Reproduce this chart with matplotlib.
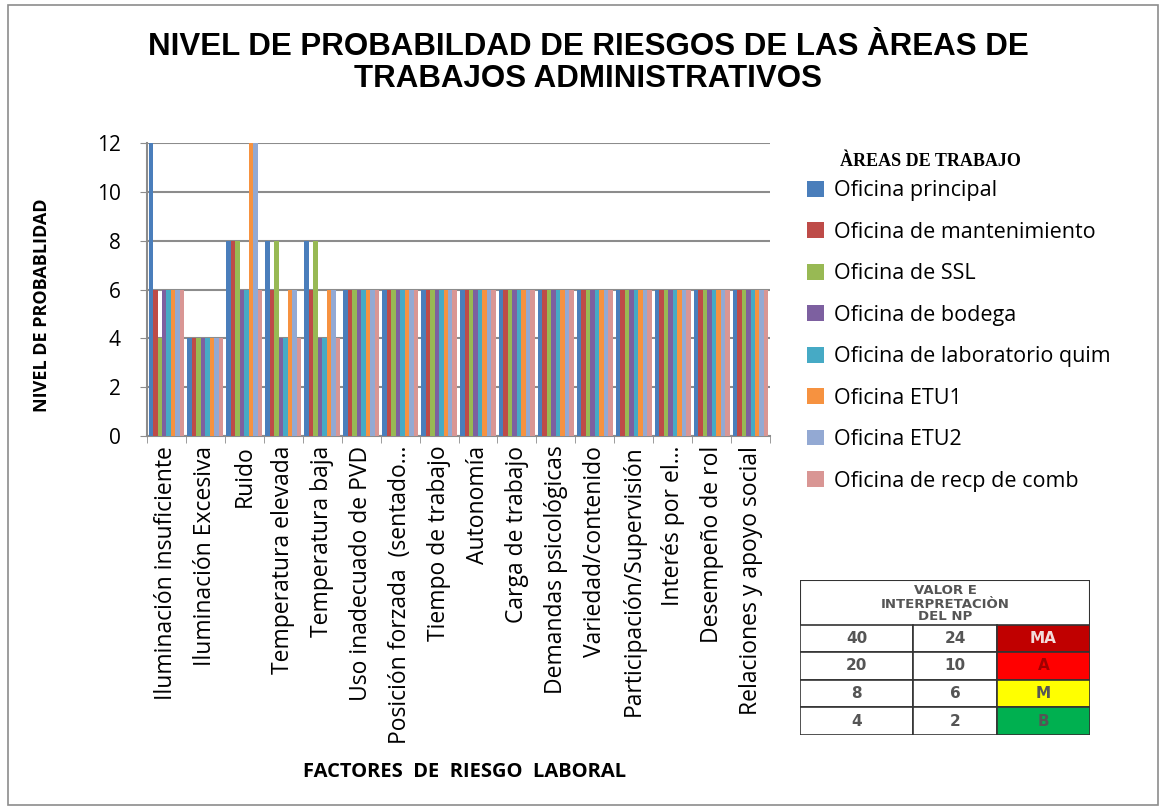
import matplotlib
matplotlib.use("Agg")
import matplotlib.pyplot as plt
import numpy as np
from matplotlib.patches import Rectangle, Patch

# factores de riesgo (eje x)
factores = ["Iluminación insuficiente", "Iluminación Excesiva", "Ruido",
            "Temperatura elevada", "Temperatura baja", "Uso inadecuado de PVD",
            "Posición forzada  (sentado…", "Tiempo de trabajo", "Autonomía",
            "Carga de trabajo", "Demandas psicológicas", "Variedad/contenido",
            "Participación/Supervisión", "Interés por el…", "Desempeño de rol",
            "Relaciones y apoyo social"]

# nivel de probabilidad por area
oficina_principal = [12, 4, 8, 8, 8, 6, 6, 6, 6, 6, 6, 6, 6, 6, 6, 6]
oficina_mantenimiento = [6, 4, 8, 6, 6, 6, 6, 6, 6, 6, 6, 6, 6, 6, 6, 6]
oficina_ssl = [4, 4, 8, 8, 8, 6, 6, 6, 6, 6, 6, 6, 6, 6, 6, 6]
oficina_bodega = [6, 4, 6, 4, 4, 6, 6, 6, 6, 6, 6, 6, 6, 6, 6, 6]
oficina_laboratorio = [6, 4, 6, 4, 4, 6, 6, 6, 6, 6, 6, 6, 6, 6, 6, 6]
oficina_etu1 = [6, 4, 12, 6, 6, 6, 6, 6, 6, 6, 6, 6, 6, 6, 6, 6]
oficina_etu2 = [6, 4, 12, 6, 6, 6, 6, 6, 6, 6, 6, 6, 6, 6, 6, 6]
oficina_recp = [6, 4, 6, 4, 4, 6, 6, 6, 6, 6, 6, 6, 6, 6, 6, 6]

areas = ["Oficina principal", "Oficina de mantenimiento", "Oficina de SSL",
         "Oficina de bodega", "Oficina de laboratorio quim", "Oficina ETU1",
         "Oficina ETU2", "Oficina de recp de comb"]
series = [oficina_principal, oficina_mantenimiento, oficina_ssl, oficina_bodega,
          oficina_laboratorio, oficina_etu1, oficina_etu2, oficina_recp]
colores = ["#4A7EBB", "#BE4B48", "#98B954", "#7D60A0", "#46AAC5", "#F69240",
           "#93A9D3", "#D99694"]

# tabla de interpretacion
tabla_np = [["40", "24", "MA"], ["20", "10", "A"], ["8", "6", "M"], ["4", "2", "B"]]
tabla_colores = ["#C00000", "#FF0000", "#FFFF00", "#00B050"]

fuente = "Open Sans"

fig = plt.figure(figsize=(11.63, 8.10), dpi=100)
fig.patches.append(Rectangle((8 / 1163, 5 / 810), 1150 / 1163, 800 / 810,
                             transform=fig.transFigure, fill=False,
                             edgecolor="#8c8c8c", linewidth=1.2))

ax = fig.add_axes([147 / 1163, (810 - 436) / 810, 623 / 1163, 293 / 810])
n = len(factores)
x = np.arange(n)
ancho = 0.92 / len(series)
for i, (vals, c, nom) in enumerate(zip(series, colores, areas)):
    ax.bar(x - 0.46 + ancho * (i + 0.5), vals, width=ancho, color=c,
           edgecolor="none", label=nom, zorder=3)

ax.set_xlim(-0.5, n - 0.5)
ax.set_ylim(0, 12)
ax.set_yticks(np.arange(0, 13, 2))
ax.yaxis.grid(True, color="#8c8c8c", linewidth=1.5, zorder=0)
for s in ["top", "right"]:
    ax.spines[s].set_visible(False)
ax.spines["left"].set_color("#8c8c8c")
ax.spines["bottom"].set_color("#8c8c8c")
ax.spines["left"].set_linewidth(1.5)
ax.spines["bottom"].set_linewidth(1.5)
ax.tick_params(axis="y", length=5, color="#8c8c8c", labelsize=15, pad=14)
ax.set_xticks(np.arange(-0.5, n, 1), minor=True)
ax.set_xticks(x)
ax.set_xticklabels(factores, rotation=90, fontsize=16.5, family=fuente, va="top")
ax.tick_params(axis="x", which="major", length=0, pad=7)
ax.tick_params(axis="x", which="minor", length=5, color="#8c8c8c")
for lab in ax.get_yticklabels():
    lab.set_family(fuente)

fig.text(465 / 1163, 1 - 772 / 810, "FACTORES  DE  RIESGO  LABORAL", ha="center",
         va="center", fontsize=14.5, fontweight="bold", family=fuente)
fig.text(42 / 1163, 1 - 305 / 810, "NIVEL DE PROBABLIDAD", ha="center",
         va="center", rotation=90, fontsize=13, fontweight="bold", family=fuente)

fig.text(588 / 1163, 1 - 63 / 810,
         "NIVEL DE PROBABILDAD DE RIESGOS DE LAS ÀREAS DE\nTRABAJOS ADMINISTRATIVOS",
         ha="center", va="center", fontsize=22.5, fontweight="bold",
         family="Liberation Sans", linespacing=1.05)

# leyenda
fig.text(930 / 1163, 1 - 162 / 810, "ÀREAS DE TRABAJO", ha="center", va="center",
         fontsize=13, fontweight="bold", family="Liberation Serif")
handles = [Patch(facecolor=c, edgecolor="none") for c in colores]
leg = fig.legend(handles, areas, loc="upper left",
                 bbox_to_anchor=(788 / 1163, 1 - 161 / 810), frameon=False,
                 prop={"family": fuente, "size": 15.5}, handlelength=0.75,
                 handleheight=0.75, handletextpad=0.5, labelspacing=0.95)

# tabla VALOR E INTERPRETACION DEL NP
axt = fig.add_axes([800 / 1163, (810 - 735) / 810, 290 / 1163, 155 / 810])
axt.set_xlim(0, 290)
axt.set_ylim(155, 0)
axt.axis("off")
cols = [0, 113, 197, 290]
filas = [45, 72, 100, 127, 155]
axt.add_patch(Rectangle((0, 0), 290, 155, fill=False, edgecolor="#333333", lw=1.5))
axt.text(145, 24, "VALOR E\nINTERPRETACIÒN\nDEL NP", ha="center", va="center",
         fontsize=9.5, fontweight="bold", color="#555555", family="DejaVu Sans",
         linespacing=1.0)
for r, (fila, cc) in enumerate(zip(tabla_np, tabla_colores)):
    y0, y1 = filas[r], filas[r + 1]
    for c in range(3):
        fc = cc if c == 2 else "white"
        axt.add_patch(Rectangle((cols[c], y0), cols[c + 1] - cols[c], y1 - y0,
                                facecolor=fc, edgecolor="#333333", lw=1.2))
        color_txt = "#555555"
        if c == 2:
            color_txt = "#F2DCDB" if r == 0 else ("#A00000" if r == 1 else "#555555")
        axt.text((cols[c] + cols[c + 1]) / 2, (y0 + y1) / 2, fila[c], ha="center",
                 va="center", fontsize=11, fontweight="bold", color=color_txt,
                 family="DejaVu Sans")

fig.savefig("out.png", dpi=100)
